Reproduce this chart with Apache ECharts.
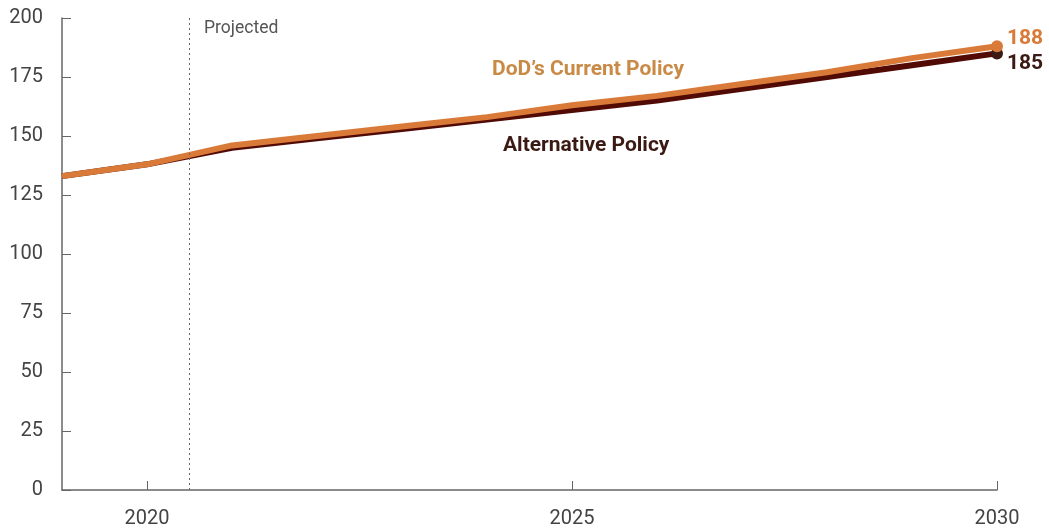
<!DOCTYPE html>
<html>
<head>
<meta charset="utf-8">
<script src="https://cdn.jsdelivr.net/npm/echarts@6/dist/echarts.min.js"></script>
<style>html,body{margin:0;padding:0;background:#fff}#c{width:1049px;height:529px}</style>
</head>
<body>
<div id="c"></div>
<script>
const years = [2019, 2020, 2021, 2022, 2023, 2024, 2025, 2026, 2027, 2028, 2029, 2030];
const currentPolicy = [133, 138, 146, 150, 154, 158, 163, 167, 172, 177, 183, 188];
const alternativePolicy = [133, 138, 145, 149, 153, 157, 161, 165, 170, 175, 180, 185];
const xTickLabels = [2020, 2025, 2030];
const projectedStart = 2020.5;

const chart = echarts.init(document.getElementById('c'));
const font = 'Roboto, "Liberation Sans", sans-serif';
const last = years.length - 1;
function pairs(vals) { return years.map((y, i) => [y, vals[i]]); }

chart.setOption({
  animation: false,
  grid: { left: 62, right: 52, top: 18, bottom: 39 },
  xAxis: {
    type: 'value', min: 2019, max: 2030,
    axisLine: { show: true, lineStyle: { color: '#666', width: 1.5 } },
    axisTick: { show: true, inside: true, length: 9, customValues: xTickLabels, lineStyle: { color: '#666' } },
    axisLabel: { customValues: xTickLabels, color: '#444', fontSize: 20, fontFamily: font, margin: 19, formatter: v => String(v) },
    splitLine: { show: false }
  },
  yAxis: {
    type: 'value', min: 0, max: 200, interval: 25,
    axisLine: { show: true, lineStyle: { color: '#666', width: 1.5 } },
    axisTick: { show: true, inside: true, length: 9, lineStyle: { color: '#666' } },
    axisLabel: { color: '#444', fontSize: 20, fontFamily: font, margin: 19 },
    splitLine: { show: false }
  },
  series: [
    {
      name: 'Alternative Policy', type: 'line', data: pairs(alternativePolicy),
      lineStyle: { color: '#520a05', width: 6 },
      itemStyle: { color: '#3b1a14' },
      symbol: 'circle', showAllSymbol: true,
      symbolSize: (v, p) => p.dataIndex === last ? 12 : 0,
      endLabel: { show: true, formatter: p => String(p.value[1]), color: '#3b1a14', fontSize: 21, fontWeight: 'bold', fontFamily: font, offset: [2, 10] },
      z: 2
    },
    {
      name: "DoD's Current Policy", type: 'line', data: pairs(currentPolicy),
      lineStyle: { color: '#d97a38', width: 6 },
      itemStyle: { color: '#d97a38' },
      symbol: 'circle', showAllSymbol: true,
      symbolSize: (v, p) => p.dataIndex === last ? 12 : 0,
      endLabel: { show: true, formatter: p => String(p.value[1]), color: '#d97a38', fontSize: 21, fontWeight: 'bold', fontFamily: font, offset: [2, -8] },
      markLine: {
        silent: true, symbol: 'none',
        lineStyle: { color: '#666', type: [2, 3], width: 1 },
        label: { show: false },
        data: [{ xAxis: projectedStart }]
      },
      z: 3
    }
  ],
  graphic: [
    { type: 'text', left: 204, top: 20, style: { text: 'Projected', fill: '#555', fontSize: 17.5, fontFamily: font } },
    { type: 'text', left: 492, top: 59, style: { text: "DoD\u2019s Current Policy", fill: '#c98a45', fontSize: 21, fontWeight: 'bold', fontFamily: font } },
    { type: 'text', left: 503, top: 135, style: { text: 'Alternative Policy', fill: '#3b1a14', fontSize: 21, fontWeight: 'bold', fontFamily: font } }
  ]
});
</script>
</body>
</html>
